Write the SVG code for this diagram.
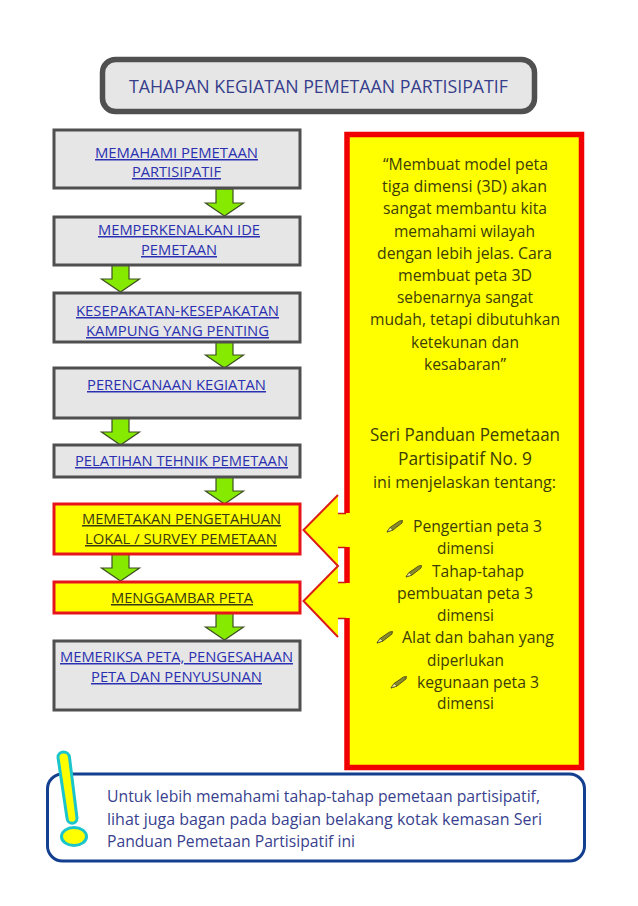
<svg xmlns="http://www.w3.org/2000/svg" width="638" height="906" viewBox="0 0 638 906">
<style>
text{font-family:"Open Sans","Noto Sans","Liberation Sans",sans-serif;font-size:15px}
.box{fill:#e6e6e6;stroke:#4f4f4f;stroke-width:3}
.hot{fill:#ffff00;stroke:#e8141c;stroke-width:3}
.lnk{fill:#2a30b0;text-decoration:underline}
.lnk2{fill:#3a3a10;text-decoration:underline}
.ol{fill:#3d3d08;font-size:15.500px}
.big{fill:#3d3d08;font-size:17.500px}
.nv{fill:#383f8e;font-size:16px}
.arr{fill:#86ea00;stroke:#3f4f22;stroke-width:1.200;stroke-linejoin:miter}
</style>
<defs>
<g id="arrow"><path class="arr" d="M-8.500 0H8.500V14H19L0 27-19 14H-8.500Z"/></g>
<g id="pencil">
<path d="M0 12L3 7.500 12.500 1 15.500 0.500 15 3 6 10Z" fill="#8a8a30" stroke="#3c3c10" stroke-width="0.800"/>
<path d="M0 12L3 7.500 6 10Z" fill="#f0f0a0" stroke="#3c3c10" stroke-width="0.600"/>
</g>
</defs>
<rect width="638" height="906" fill="#fff"/>

<g id="title">
<rect x="102.500" y="59.500" width="432" height="52" rx="13" fill="#e6e6e6" stroke="#505050" stroke-width="5.500"/>
<text x="129" y="93" textLength="379" lengthAdjust="spacingAndGlyphs" style="font-size:17.500px;fill:#363e8c">TAHAPAN KEGIATAN PEMETAAN PARTISIPATIF</text>
</g>

<g id="connectors">
<use href="#arrow" x="224.500" y="189"/>
<use href="#arrow" x="120.500" y="265"/>
<use href="#arrow" x="224.500" y="341"/>
<use href="#arrow" x="120.500" y="418"/>
<use href="#arrow" x="224.500" y="477"/>
<use href="#arrow" x="120.500" y="554"/>
<use href="#arrow" x="224.500" y="613"/>
</g>

<g id="n1"><rect class="box" x="54" y="130" width="246" height="58"/>
<text class="lnk" x="95" y="158" textLength="163" lengthAdjust="spacingAndGlyphs">MEMAHAMI PEMETAAN</text>
<text class="lnk" x="132" y="177" textLength="89" lengthAdjust="spacingAndGlyphs">PARTISIPATIF</text></g>
<g id="n2"><rect class="box" x="54" y="217" width="246" height="48"/>
<text class="lnk" x="98" y="235" textLength="162" lengthAdjust="spacingAndGlyphs">MEMPERKENALKAN IDE</text>
<text class="lnk" x="141" y="255" textLength="76" lengthAdjust="spacingAndGlyphs">PEMETAAN</text></g>
<g id="n3"><rect class="box" x="54" y="293" width="246" height="49"/>
<text class="lnk" x="76" y="316" textLength="203" lengthAdjust="spacingAndGlyphs">KESEPAKATAN-KESEPAKATAN</text>
<text class="lnk" x="86" y="336" textLength="183" lengthAdjust="spacingAndGlyphs">KAMPUNG YANG PENTING</text></g>
<g id="n4"><rect class="box" x="54" y="368" width="246" height="50"/>
<text class="lnk" x="87" y="390" textLength="179" lengthAdjust="spacingAndGlyphs">PERENCANAAN KEGIATAN</text></g>
<g id="n5"><rect class="box" x="54" y="445" width="246" height="32"/>
<text class="lnk" x="75" y="466" textLength="213" lengthAdjust="spacingAndGlyphs">PELATIHAN TEHNIK PEMETAAN</text></g>
<g id="n6"><rect class="hot" x="54" y="504" width="246" height="50"/>
<text class="lnk2" x="82" y="524" textLength="199" lengthAdjust="spacingAndGlyphs">MEMETAKAN PENGETAHUAN</text>
<text class="lnk2" x="85" y="544" textLength="192" lengthAdjust="spacingAndGlyphs">LOKAL / SURVEY PEMETAAN</text></g>
<g id="n7"><rect class="hot" x="54" y="582" width="246" height="31"/>
<text class="lnk2" x="111" y="603" textLength="142" lengthAdjust="spacingAndGlyphs">MENGGAMBAR PETA</text></g>
<g id="n8"><rect class="box" x="54" y="641" width="246" height="69"/>
<text class="lnk" x="60" y="662" textLength="233" lengthAdjust="spacingAndGlyphs">MEMERIKSA PETA, PENGESAHAAN</text>
<text class="lnk" x="91" y="682" textLength="171" lengthAdjust="spacingAndGlyphs">PETA DAN PENYUSUNAN</text></g>

<g id="info">
<rect x="347" y="134.500" width="234.500" height="633" fill="#ffff00" stroke="#f00000" stroke-width="5.500"/>
<path d="M338 495L303 530 338 566V547H352V513H338Z M338 566L303 601 338 637V618H352V583H338Z" fill="#ffff00"/>
<rect x="338" y="548" width="6" height="34" fill="#fff"/>
<path d="M338 495L303.500 530 338 566 303.500 601 338 637" fill="none" stroke="#dc1c14" stroke-width="2"/>
<path d="M338 513.500H346M338 547.500H346M338 582.500H346M338 618.500H346" fill="none" stroke="#c81c10" stroke-width="1.600"/>
<text class="ol" x="383" y="170" textLength="165" lengthAdjust="spacingAndGlyphs">“Membuat model peta</text>
<text class="ol" x="382" y="192" textLength="165" lengthAdjust="spacingAndGlyphs">tiga dimensi (3D) akan</text>
<text class="ol" x="383" y="214" textLength="164" lengthAdjust="spacingAndGlyphs">sangat membantu kita</text>
<text class="ol" x="394" y="237" textLength="141" lengthAdjust="spacingAndGlyphs">memahami wilayah</text>
<text class="ol" x="377" y="259" textLength="175" lengthAdjust="spacingAndGlyphs">dengan lebih jelas. Cara</text>
<text class="ol" x="398" y="281" textLength="134" lengthAdjust="spacingAndGlyphs">membuat peta 3D</text>
<text class="ol" x="397" y="303" textLength="136" lengthAdjust="spacingAndGlyphs">sebenarnya sangat</text>
<text class="ol" x="370" y="325" textLength="190" lengthAdjust="spacingAndGlyphs">mudah, tetapi dibutuhkan</text>
<text class="ol" x="411" y="348" textLength="108" lengthAdjust="spacingAndGlyphs">ketekunan dan</text>
<text class="ol" x="424" y="370" textLength="82" lengthAdjust="spacingAndGlyphs">kesabaran”</text>
<text class="big" x="370" y="441" textLength="190" lengthAdjust="spacingAndGlyphs">Seri Panduan Pemetaan</text>
<text class="big" x="398" y="465" textLength="134" lengthAdjust="spacingAndGlyphs">Partisipatif No. 9</text>
<text class="ol" x="373" y="488" textLength="183" lengthAdjust="spacingAndGlyphs">ini menjelaskan tentang:</text>
<use href="#pencil" x="387" y="520"/>
<text class="ol" x="413" y="532" textLength="129" lengthAdjust="spacingAndGlyphs">Pengertian peta 3</text>
<text class="ol" x="437" y="554" textLength="57" lengthAdjust="spacingAndGlyphs">dimensi</text>
<use href="#pencil" x="406" y="565"/>
<text class="ol" x="432" y="577" textLength="92" lengthAdjust="spacingAndGlyphs">Tahap-tahap</text>
<text class="ol" x="397" y="599" textLength="136" lengthAdjust="spacingAndGlyphs">pembuatan peta 3</text>
<text class="ol" x="437" y="621" textLength="57" lengthAdjust="spacingAndGlyphs">dimensi</text>
<use href="#pencil" x="377" y="631"/>
<text class="ol" x="402" y="643" textLength="152" lengthAdjust="spacingAndGlyphs">Alat dan bahan yang</text>
<text class="ol" x="427" y="666" textLength="77" lengthAdjust="spacingAndGlyphs">diperlukan</text>
<use href="#pencil" x="391" y="676"/>
<text class="ol" x="417" y="688" textLength="122" lengthAdjust="spacingAndGlyphs">kegunaan peta 3</text>
<text class="ol" x="437" y="709" textLength="57" lengthAdjust="spacingAndGlyphs">dimensi</text>
</g>

<g id="note">
<rect x="47.500" y="774" width="537" height="87" rx="15" fill="#fff" stroke="#123f8f" stroke-width="3"/>
<path d="M58 757.500C58 750 69 750 69.500 757.500L77 818C77 825 67.500 825 67 818Z" fill="#ffff00" stroke="#1cc4cc" stroke-width="3"/>
<ellipse cx="74" cy="836.500" rx="12.500" ry="9" fill="#ffff00" stroke="#1cc4cc" stroke-width="3"/>
<text class="nv" x="107" y="802" textLength="433" lengthAdjust="spacingAndGlyphs">Untuk lebih memahami tahap-tahap pemetaan partisipatif,</text>
<text class="nv" x="107" y="825" textLength="435" lengthAdjust="spacingAndGlyphs">lihat juga bagan pada bagian belakang kotak kemasan Seri</text>
<text class="nv" x="107" y="847" textLength="248" lengthAdjust="spacingAndGlyphs">Panduan Pemetaan Partisipatif ini</text>
</g>
</svg>
